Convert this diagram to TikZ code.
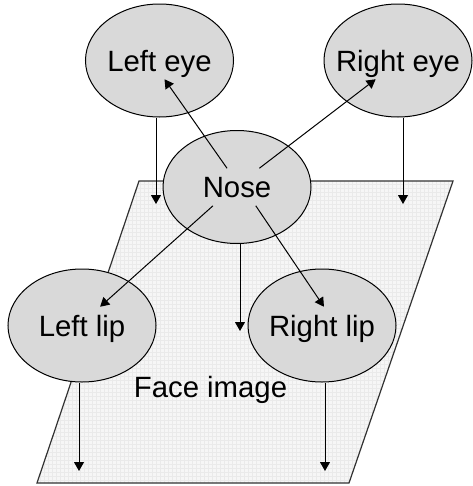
\documentclass[tikz,border=0pt]{standalone}
\usepackage{fontspec}
\setmainfont{Liberation Sans}
\usetikzlibrary{shapes.geometric,arrows.meta}
\definecolor{blobfill}{RGB}{217,217,217}
\definecolor{facefill}{RGB}{246,246,246}
\definecolor{facegrid}{RGB}{234,234,234}
\definecolor{faceedge}{RGB}{50,50,50}
\begin{document}
\begin{tikzpicture}[x=0.75pt,y=-0.75pt,
  blob/.style={ellipse,draw=black,line width=0.75pt,fill=blobfill,minimum width=111pt,minimum height=84.75pt,inner sep=0pt},
  lbl/.style={font=\fontsize{22}{26}\selectfont,text height=15.75pt,text depth=0pt,inner xsep=4pt,inner ysep=6pt},
  arr/.style={-{Triangle[length=6.75pt,width=7.5pt]},line width=0.75pt,draw=black},
  ]
\useasboundingbox (0,0) rectangle (472,486);
% face image plane
\fill[facefill] (139,181) -- (453,181) -- (349,483) -- (37,483) -- cycle;
\begin{scope}
  \clip (139,181) -- (453,181) -- (349,483) -- (37,483) -- cycle;
  \draw[facegrid,line width=0.25pt] (30,175) grid[step=3pt] (460,490);
\end{scope}
\draw[faceedge,line width=0.9pt] (139,181) -- (453,181) -- (349,483) -- (37,483) -- cycle;
\node[font=\fontsize{22}{26}\selectfont,anchor=base] (fi) at (210.5,397) {Face image};
% ellipses
\node[blob] (le) at (159.5,60.5) {};
\node[blob] (re) at (398,60.5) {};
\node[blob] (no) at (237,187) {};
\node[blob] (ll) at (82,325.5) {};
\node[blob] (rl) at (322,325.5) {};
% labels
\node[lbl] (let) at (le) {Left eye};
\node[lbl] (ret) at (re) {Right eye};
\node[lbl] (nt) at (no) {Nose};
\node[lbl] (llt) at (ll) {Left lip};
\node[lbl] (rlt) at (rl) {Right lip};
% arrows from nose
\draw[arr] (nt.118) -- (let.-75);
\draw[arr] (nt.40) -- (ret.-140);
\draw[arr] (nt.-142) -- (llt.46);
\draw[arr] (nt.-45) -- (rlt.84);
% downward arrows onto the face image
\coordinate (t1) at (156,204);
\coordinate (t2) at (403,204);
\coordinate (t3) at (240,331);
\coordinate (t4) at (79,471);
\coordinate (t5) at (325,471);
\draw[arr] (le.south -| t1) -- (t1);
\draw[arr] (re.south -| t2) -- (t2);
\draw[arr] (no.south -| t3) -- (t3);
\draw[arr] (ll.south -| t4) -- (t4);
\draw[arr] (rl.south -| t5) -- (t5);
\end{tikzpicture}
\end{document}
